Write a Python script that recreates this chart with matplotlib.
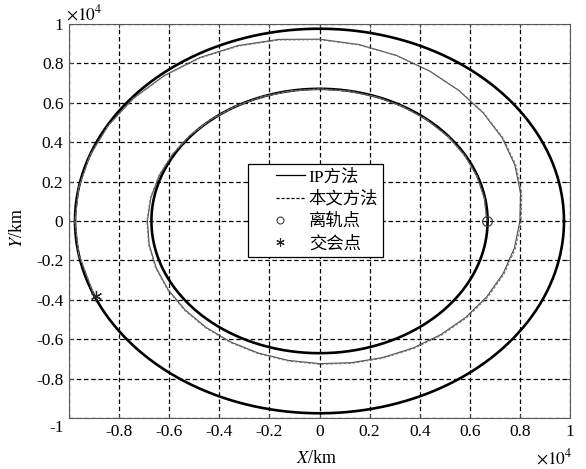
import numpy as np
import matplotlib
matplotlib.use("Agg")
import matplotlib.pyplot as plt
from matplotlib.lines import Line2D
from matplotlib.legend_handler import HandlerLine2D
from matplotlib.ticker import FuncFormatter

plt.rcParams['font.family'] = ['Liberation Serif', 'Noto Sans CJK SC']
plt.rcParams['mathtext.fontset'] = 'stix'
plt.rcParams['axes.unicode_minus'] = False

# ---------------- data (km) ----------------
inner_radius = 6710.0          # parking (departure) orbit
outer_radius = 9760.0          # target orbit

# transfer trajectory, polar samples (deg, km)
ip_theta = [0, 10, 20, 30, 40, 50, 60, 70, 80, 90, 100, 110, 120, 130, 140, 150,
            160, 170, 180, 190, 200, 210, 220, 230, 240, 250, 260, 270, 280, 290,
            300, 310, 320, 330, 340, 350, 360, 370, 380, 390, 400, 410, 420, 430,
            440, 450, 460, 470, 480, 490, 500, 510, 520, 530, 540, 550, 563]
ip_r = [6680, 6682, 6684, 6686, 6688, 6690, 6693, 6696, 6699, 6702, 6706, 6711,
        6720, 6732, 6748, 6770, 6800, 6835, 6870, 6905, 6940, 6975, 7010, 7050,
        7090, 7135, 7185, 7240, 7305, 7375, 7450, 7530, 7615, 7705, 7800, 7900,
        8000, 8150, 8300, 8425, 8530, 8650, 8790, 8950, 9095, 9230, 9360, 9480,
        9575, 9640, 9695, 9730, 9752, 9760, 9760, 9760, 9760]
my_r = [6680, 6682, 6684, 6686, 6688, 6690, 6693, 6696, 6699, 6702, 6706, 6713,
        6724, 6738, 6756, 6782, 6815, 6852, 6890, 6927, 6963, 7000, 7038, 7078,
        7120, 7167, 7217, 7272, 7338, 7410, 7487, 7568, 7655, 7747, 7845, 7947,
        8050, 8195, 8338, 8455, 8552, 8662, 8792, 8940, 9075, 9205, 9330, 9450,
        9550, 9625, 9685, 9725, 9750, 9760, 9760, 9760, 9760]

depart_pt = (6680.0, 0.0)
meet_pt = (-8930.0, -3800.0)

xticks = [-10000, -8000, -6000, -4000, -2000, 0, 2000, 4000, 6000, 8000, 10000]
yticks = [-10000, -8000, -6000, -4000, -2000, 0, 2000, 4000, 6000, 8000, 10000]

legend_labels = ['IP方法', '本文方法', '离轨点', '交会点']

# ---------------- figure ----------------
W, H = 586, 469
fig = plt.figure(figsize=(W / 100, H / 100), dpi=100)
ax = fig.add_axes([69 / W, 1 - 418 / H, 501 / W, 394 / H])

phi = np.linspace(0, 2 * np.pi, 721)
ax.plot(outer_radius * np.cos(phi), outer_radius * np.sin(phi), color='black', lw=1.9, zorder=3)
ax.plot(inner_radius * np.cos(phi), inner_radius * np.sin(phi), color='black', lw=1.9, zorder=3)

th = np.deg2rad(ip_theta)
ax.plot(np.array(ip_r) * np.cos(th), np.array(ip_r) * np.sin(th), color='0.3', lw=0.8, zorder=4)
ax.plot(np.array(my_r) * np.cos(th), np.array(my_r) * np.sin(th), color='0.45', lw=0.8,
        linestyle=(0, (2.5, 1.5)), zorder=4)

ax.plot([depart_pt[0]], [depart_pt[1]], marker='o', mfc='none', mec='0.25', ms=7, mew=0.9, zorder=5)
ax.plot([meet_pt[0]], [meet_pt[1]], marker=(6, 2, 0), color='0.15', ms=8, mew=0.9, zorder=5)

ax.set_xlim(-10000, 10000)
ax.set_ylim(-10000, 10000)
ax.set_xticks(xticks)
ax.set_yticks(yticks)


def fmt(v, pos):
    if abs(v + 10000) < 1:
        return ''
    return f'{v / 1e4:g}'


ax.xaxis.set_major_formatter(FuncFormatter(fmt))
ax.yaxis.set_major_formatter(FuncFormatter(fmt))
ax.tick_params(direction='in', top=True, right=True, length=3, width=0.7,
               labelsize=12.5, pad=4, color='0.3')
ax.grid(True, color='black', linestyle=(0, (3.6, 2.2)), lw=0.9, zorder=1)
ax.set_axisbelow(True)
for s in ax.spines.values():
    s.set_color('0.35')
    s.set_linewidth(0.8)

# corner label shared by both axes
fig.text(57 / W, 1 - 428 / H, '-1', ha='center', va='center', fontsize=12.5)
# exponent labels
fig.text(66 / W, 1 - 14 / H, r'$\times10^4$', ha='left', va='center', fontsize=12.5)
fig.text(573 / W, 1 - 458 / H, r'$\times10^4$', ha='right', va='center', fontsize=12.5)

fig.text(317 / W, 1 - 458 / H, r'$X$/km', ha='center', va='center', fontsize=13)
fig.text(18 / W, 1 - 228 / H, r'$Y$/km', ha='center', va='center', fontsize=13, rotation=90)


class ShiftedHandler(HandlerLine2D):
    """Draw the handle only on part [start, end] of the handle box."""

    def __init__(self, start, end, **kw):
        super().__init__(**kw)
        self.start = start
        self.end = end

    def create_artists(self, legend, orig_handle, xdescent, ydescent, width, height,
                       fontsize, trans):
        x0 = -xdescent + self.start * width
        x1 = -xdescent + self.end * width
        return super().create_artists(legend, orig_handle, -x0, ydescent, x1 - x0,
                                      height, fontsize, trans)


handles = [
    Line2D([], [], color='black', lw=0.9),
    Line2D([], [], color='black', lw=0.9, linestyle=(0, (2.5, 1.5))),
    Line2D([], [], color='0.25', marker='o', mfc='none', ms=5, lw=0, mew=0.8),
    Line2D([], [], color='0.15', marker=(6, 2, 0), ms=6, lw=0, mew=0.8),
]
hmap = {handles[0]: ShiftedHandler(0.44, 1.0),
        handles[1]: ShiftedHandler(0.44, 1.0),
        handles[2]: ShiftedHandler(0.50, 0.54),
        handles[3]: ShiftedHandler(0.50, 0.54)}
leg = ax.legend(handles, legend_labels, loc='upper left', handler_map=hmap,
                bbox_to_anchor=((248 - 69) / 501, (418 - 164) / 394),
                borderaxespad=0, frameon=True, fancybox=False, edgecolor='black',
                framealpha=1, handlelength=3.0, handletextpad=0.2, borderpad=0.3,
                labelspacing=0.33, prop={'size': 12.5})
leg.get_frame().set_linewidth(0.9)
leg.set_zorder(10)

fig.savefig('out.png', dpi=100)
